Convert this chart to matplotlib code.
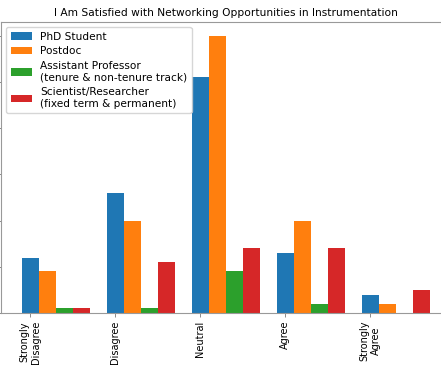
import numpy as np
import matplotlib
matplotlib.use("Agg")
import matplotlib.pyplot as plt

# === Data ===
categories = ["Strongly\nDisagree", "Disagree", "Neutral", "Agree", "Strongly\nAgree"]
groups = [
    "PhD Student",
    "Postdoc",
    "Assistant Professor\n(tenure & non-tenure track)",
    "Scientist/Researcher\n(fixed term & permanent)",
]
phd = [12, 26, 51, 13, 4]
postdoc = [9, 20, 60, 20, 2]
asst_prof = [1, 1, 9, 2, 0]
scientist = [1, 11, 14, 14, 5]
series = [phd, postdoc, asst_prof, scientist]
colors = ["#1f77b4", "#ff7f0e", "#2ca02c", "#d62728"]

W, H = 441, 365
px_per_unit = 85.0
left_px = 1.1
right_px = 480.0
fig = plt.figure(figsize=(W / 100, H / 100), dpi=100)
# axes extends past the right edge like the cropped original
ax = fig.add_axes([left_px / W, 52 / H, (right_px - left_px) / W, 291 / H])

x = np.arange(len(categories))
width = 0.2
for i, (vals, name) in enumerate(zip(series, groups)):
    ax.bar(x + i * width, vals, width, label=name, color=colors[i])

ax.set_xlim(-0.34, (right_px - 30) / px_per_unit)
ax.set_ylim(0, 63)
ax.set_xticks(x)
ax.set_xticklabels(categories, rotation=90, fontsize=7, ha="center")
ax.set_yticks(np.arange(0, 61, 10))
ax.set_yticklabels([])
ax.tick_params(axis="both", colors="#777777", labelcolor="black", width=0.6,
               length=3, pad=2.3)
for s in ax.spines.values():
    s.set_color("#999999")
    s.set_linewidth(0.8)

# title centred on the visible (cropped) part of the axes
title_x = (225.5 - left_px) / (right_px - left_px)
ax.set_title("I Am Satisfied with Networking Opportunities in Instrumentation",
             fontsize=7.7, pad=4, x=title_x)
ax.legend(loc="upper left", fontsize=7.6, handlelength=2.0, borderaxespad=0.5,
          labelspacing=0.45, handletextpad=0.8, borderpad=0.4)

plt.savefig("out.png", dpi=100)
plt.close()
